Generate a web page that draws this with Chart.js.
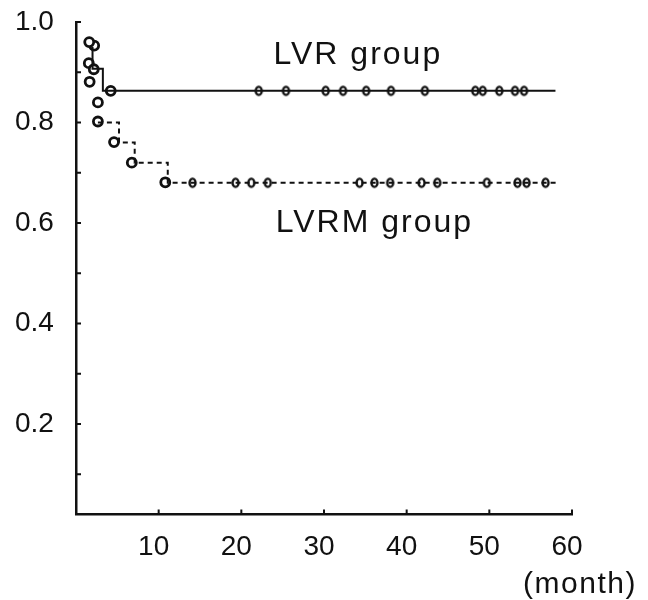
<!DOCTYPE html>
<html>
<head>
<meta charset="utf-8">
<script src="https://cdn.jsdelivr.net/npm/chart.js@4.4.0/dist/chart.umd.min.js"></script>
<style>
  html, body { margin: 0; padding: 0; background: #fff; }
  #wrap { width: 648px; height: 600px; }
</style>
</head>
<body>
<div id="wrap"><canvas id="kmChart" width="648" height="600"></canvas></div>
<script>
// step lines (Kaplan-Meier curves)
const lvrStepMonths = [2.0, 2.0, 3.25, 58.0];
const lvrStepSurv = [0.95, 0.907, 0.863, 0.863];
const lvrmStepMonths = [2.65, 5.2, 7.1, 11.1, 58.1];
const lvrmStepSurv = [0.80, 0.76, 0.72, 0.68, 0.68];

// event circles
const lvrEventMonths = [1.6, 1.55, 2.15, 4.2];
const lvrEventSurv = [0.96, 0.918, 0.906, 0.863];
const lvrmEventMonths = [2.2, 1.65, 2.65, 2.65, 4.6, 6.75, 10.8];
const lvrmEventSurv = [0.953, 0.881, 0.84, 0.802, 0.761, 0.72, 0.681];

// censored marks
const lvrCensorMonths = [22.1, 25.4, 30.2, 32.3, 35.1, 38.1, 42.2, 48.3, 49.2, 51.2, 53.1, 54.2];
const lvrmCensorMonths = [14.1, 19.3, 21.2, 23.2, 34.3, 36.1, 38.0, 41.8, 43.7, 49.7, 53.4, 54.5, 56.8];
const lvrLevel = 0.863;
const lvrmLevel = 0.68;

// axes
const xTickValues = [10, 20, 30, 40, 50, 60];
const yTickValues = [0.1, 0.2, 0.3, 0.4, 0.5, 0.6, 0.7, 0.8, 0.9, 1.0];
const yLabelValues = [0.2, 0.4, 0.6, 0.8, 1.0];

const ink = '#111';
const fontFamily = '"Liberation Sans", Arial, sans-serif';

function toPoints(xs, ys) {
    return xs.map((x, i) => ({ x: x, y: ys[i] }));
}

function makeCensorMark() {
    const c = document.createElement('canvas');
    c.width = 11;
    c.height = 13;
    const g = c.getContext('2d');
    g.strokeStyle = ink;
    g.fillStyle = '#fff';
    g.lineWidth = 2.4;
    g.beginPath();
    g.ellipse(5.5, 6.5, 3, 4.1, 0, 0, Math.PI * 2);
    g.fill();
    g.stroke();
    return c;
}

const censorMark = makeCensorMark();

// ticks point into the plot, plus the group / unit labels
const extras = {
    id: 'extras',
    beforeDatasetsDraw(chart) {
        const { ctx, scales: { x, y } } = chart;
        ctx.save();
        ctx.strokeStyle = ink;
        ctx.lineWidth = 2;
        ctx.beginPath();
        y.ticks.forEach(t => {
            const py = y.getPixelForValue(t.value);
            ctx.moveTo(x.left, py);
            ctx.lineTo(x.left + 5, py);
        });
        x.ticks.forEach(t => {
            const px = x.getPixelForValue(t.value);
            ctx.moveTo(px, y.bottom);
            ctx.lineTo(px, y.bottom - 5);
        });
        ctx.stroke();
        ctx.restore();
    },
    afterDraw(chart) {
        const { ctx, scales: { x, y } } = chart;
        ctx.save();
        ctx.fillStyle = ink;
        ctx.textBaseline = 'alphabetic';
        ctx.textAlign = 'center';
        ctx.font = '32px ' + fontFamily;
        ctx.letterSpacing = '2px';
        ctx.fillText('LVR group', x.getPixelForValue(34.1), y.getPixelForValue(0.917));
        ctx.fillText('LVRM group', x.getPixelForValue(36.1), y.getPixelForValue(0.583));
        ctx.font = '30px ' + fontFamily;
        ctx.letterSpacing = '1.5px';
        ctx.fillText('(month)', x.getPixelForValue(60) + 8, y.bottom + 79);
        ctx.restore();
    }
};

const ctx = document.getElementById('kmChart').getContext('2d');
new Chart(ctx, {
    type: 'scatter',
    data: {
        datasets: [
            {
                type: 'line',
                label: 'LVR group',
                data: toPoints(lvrStepMonths, lvrStepSurv),
                stepped: 'before',
                borderColor: ink,
                borderWidth: 2,
                pointRadius: 0,
                fill: false
            },
            {
                type: 'line',
                label: 'LVRM group',
                data: toPoints(lvrmStepMonths, lvrmStepSurv),
                stepped: 'before',
                borderColor: ink,
                borderWidth: 2,
                borderDash: [5, 4],
                pointRadius: 0,
                fill: false
            },
            {
                label: 'LVR events',
                data: toPoints(lvrEventMonths, lvrEventSurv),
                pointStyle: 'circle',
                radius: 4.5,
                borderWidth: 2.8,
                borderColor: ink,
                backgroundColor: '#fff'
            },
            {
                label: 'LVRM events',
                data: toPoints(lvrmEventMonths, lvrmEventSurv),
                pointStyle: 'circle',
                radius: 4.5,
                borderWidth: 2.8,
                borderColor: ink,
                backgroundColor: '#fff'
            },
            {
                label: 'LVR censored',
                data: lvrCensorMonths.map(m => ({ x: m, y: lvrLevel })),
                pointStyle: censorMark
            },
            {
                label: 'LVRM censored',
                data: lvrmCensorMonths.map(m => ({ x: m, y: lvrmLevel })),
                pointStyle: censorMark
            }
        ]
    },
    options: {
        responsive: false,
        animation: false,
        layout: { padding: { left: 15, right: 76, top: 22, bottom: 20 } },
        plugins: {
            legend: { display: false },
            tooltip: { enabled: false }
        },
        scales: {
            x: {
                type: 'linear',
                min: 0,
                max: 60,
                afterBuildTicks: axis => { axis.ticks = xTickValues.map(v => ({ value: v })); },
                ticks: {
                    color: ink,
                    font: { family: fontFamily, size: 28 },
                    padding: 16,
                    labelOffset: -5,
                    maxRotation: 0,
                    callback: v => String(v)
                },
                grid: { display: false, drawTicks: false },
                border: { display: true, color: ink, width: 2.5 }
            },
            y: {
                type: 'linear',
                min: 0.02,
                max: 1.0,
                afterBuildTicks: axis => { axis.ticks = yTickValues.map(v => ({ value: v })); },
                afterFit: axis => { axis.width = 61; },
                ticks: {
                    color: ink,
                    font: { family: fontFamily, size: 28 },
                    padding: 0,
                    crossAlign: 'far',
                    callback: v => yLabelValues.some(l => Math.abs(l - v) < 1e-6) ? v.toFixed(1) : ''
                },
                grid: { display: false, drawTicks: false },
                border: { display: true, color: ink, width: 2.5 }
            }
        }
    },
    plugins: [extras]
});
</script>
</body>
</html>
